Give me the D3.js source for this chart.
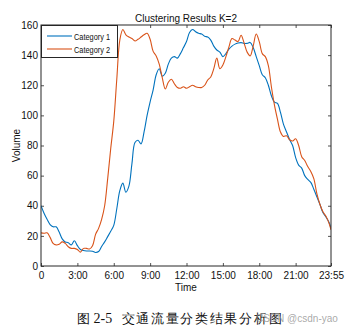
<!DOCTYPE html>
<html>
<head>
<meta charset="utf-8">
<script src="https://cdn.jsdelivr.net/npm/d3@7"></script>
<style>
  html, body { margin: 0; padding: 0; background: #fff; }
  svg { display: block; }
  text { font-family: "Liberation Sans", Arial, sans-serif; }
</style>
</head>
<body>
<svg id="chart" width="353" height="336"></svg>
<script>
// Sample times, minutes after midnight (15-minute samples, last one at 23:55)
const minutes = [
  0, 15, 30, 45, 60, 75, 90, 105, 120, 135, 150, 165, 180, 195, 210, 225,
  240, 255, 270, 285, 300, 315, 330, 345, 360, 375, 390, 405, 420, 435, 450, 465,
  480, 495, 510, 525, 540, 555, 570, 585, 600, 615, 630, 645, 660, 675, 690, 705,
  720, 735, 750, 765, 780, 795, 810, 825, 840, 855, 870, 885, 900, 915, 930, 945,
  960, 975, 990, 1005, 1020, 1035, 1050, 1065, 1080, 1095, 1110, 1125, 1140, 1155, 1170, 1185,
  1200, 1215, 1230, 1245, 1260, 1275, 1290, 1305, 1320, 1335, 1350, 1365, 1380, 1395, 1410, 1425,
  1435
];

// Cluster centre profiles (traffic volume)
const category1 = [
  40, 35, 31, 27.5, 26, 26, 22.5, 18, 16, 15.5, 14, 16.8, 13.5, 11, 10.3, 10,
  10, 9.8, 9, 9.6, 13, 16, 19.5, 23, 27, 38, 50, 55, 49, 53, 68, 82,
  83.5, 81, 89, 100, 109, 117, 127, 131, 126, 128, 134, 138, 139, 138, 141, 145,
  149, 155, 157, 155.5, 154.5, 154, 152.5, 152, 150, 146, 143.4, 142, 139, 141, 144, 146,
  147.3, 148, 148.3, 147.8, 147.8, 148.4, 145, 139, 133, 127, 125, 120, 113, 108.8, 108, 102,
  94, 89, 84, 80, 72, 67, 65, 60, 57.5, 55.5, 51, 46, 41, 35.5, 32.5, 29,
  25
];
const category2 = [
  22, 21.7, 22, 19, 15, 14, 14.5, 16, 15, 12.8, 11.7, 11.7, 11, 9.2, 11.7, 11.7,
  11.3, 13.5, 21, 25, 31, 40, 58, 78, 96, 124, 150, 157, 153.5, 152, 151, 149.4,
  150.5, 152, 153.5, 154.5, 150.5, 142.5, 139.5, 134, 125, 117.5, 122, 124, 121, 118.5, 118, 119,
  118, 119, 120, 119, 118.5, 118.5, 120, 123.5, 125.5, 131, 138, 131, 133.5, 139, 145.5, 151,
  150, 149, 153.2, 148, 142, 139.5, 146, 154, 149, 141, 139, 133, 119, 107, 97.5, 89,
  86, 86.5, 83.8, 83, 84.5, 80, 72.6, 70, 66, 62.8, 58, 48, 41, 36, 33, 28.5,
  24
];

const seriesNames = ["Category 1", "Category 2"];
const seriesColors = ["#0072BD", "#D95319"];

const xTickValues = [0, 180, 360, 540, 720, 900, 1080, 1260, 1435];
const xTickLabels = ["0", "3:00", "6:00", "9:00", "12:00", "15:00", "18:00", "21:00", "23:55"];
const yTickValues = [0, 20, 40, 60, 80, 100, 120, 140, 160];

const titleText = "Clustering Results K=2";
const xLabel = "Time";
const yLabel = "Volume";
const captionParts = ["图", "2-5", "交通流量分类结果分析图"];
const watermarkText = "CSDN @csdn-yao";

// ---- layout ----
const svg = d3.select("#chart");
const plot = { left: 41, right: 331, top: 25, bottom: 266 };

const x = d3.scaleLinear().domain([0, 1435]).range([plot.left, plot.right]);
const y = d3.scaleLinear().domain([0, 160]).range([plot.bottom, plot.top]);

svg.append("rect").attr("width", 353).attr("height", 336).attr("fill", "#fff");

const axisColor = "#262626";

// bottom axis with labels, ticks pointing inward
const gx = svg.append("g")
  .attr("transform", `translate(0,${plot.bottom})`)
  .call(d3.axisBottom(x).tickValues(xTickValues)
    .tickFormat((d, i) => xTickLabels[i]).tickSize(-3).tickPadding(6));
// left axis with labels
const gy = svg.append("g")
  .attr("transform", `translate(${plot.left},0)`)
  .call(d3.axisLeft(y).tickValues(yTickValues).tickSize(-3).tickPadding(3));
// top and right ticks (no labels)
const gt = svg.append("g")
  .attr("transform", `translate(0,${plot.top})`)
  .call(d3.axisTop(x).tickValues(xTickValues).tickFormat("").tickSize(-3));
const gr = svg.append("g")
  .attr("transform", `translate(${plot.right},0)`)
  .call(d3.axisRight(y).tickValues(yTickValues).tickFormat("").tickSize(-3));

[gx, gy, gt, gr].forEach(g => {
  g.select(".domain").remove();
  g.selectAll(".tick line").attr("stroke", axisColor).attr("stroke-width", 0.8);
  g.selectAll(".tick text").attr("fill", "#111").attr("font-size", 10)
    .attr("font-family", "Liberation Sans, Arial, sans-serif");
});

// data lines
const line = d3.line()
  .x((d, i) => x(minutes[i]))
  .y(d => y(d))
  .curve(d3.curveCatmullRom.alpha(0.5));

svg.append("clipPath").attr("id", "plotclip")
  .append("rect")
  .attr("x", plot.left).attr("y", plot.top)
  .attr("width", plot.right - plot.left).attr("height", plot.bottom - plot.top);

[category1, category2].forEach((vals, k) => {
  svg.append("path")
    .datum(vals)
    .attr("clip-path", "url(#plotclip)")
    .attr("fill", "none")
    .attr("stroke", seriesColors[k])
    .attr("stroke-width", 1.1)
    .attr("stroke-linejoin", "round")
    .attr("d", line);
});

// axes frame
svg.append("rect")
  .attr("x", plot.left).attr("y", plot.top)
  .attr("width", plot.right - plot.left).attr("height", plot.bottom - plot.top)
  .attr("fill", "none").attr("stroke", axisColor).attr("stroke-width", 1);

// title and axis labels
svg.append("text")
  .attr("x", (plot.left + plot.right) / 2).attr("y", 22)
  .attr("text-anchor", "middle").attr("font-size", 10).attr("fill", "#111")
  .text(titleText);
svg.append("text")
  .attr("x", (plot.left + plot.right) / 2).attr("y", 291)
  .attr("text-anchor", "middle").attr("font-size", 10).attr("fill", "#111")
  .text(xLabel);
svg.append("text")
  .attr("transform", `translate(20,${(plot.top + plot.bottom) / 2}) rotate(-90)`)
  .attr("text-anchor", "middle").attr("font-size", 10).attr("fill", "#111")
  .text(yLabel);

// legend
const legend = svg.append("g");
legend.append("rect")
  .attr("x", plot.left + 0.5).attr("y", plot.top + 0.5)
  .attr("width", 76).attr("height", 32)
  .attr("fill", "#fff").attr("stroke", axisColor).attr("stroke-width", 1);
seriesNames.forEach((name, k) => {
  const ly = 36 + k * 13;
  legend.append("line")
    .attr("x1", 47).attr("x2", 72).attr("y1", ly).attr("y2", ly)
    .attr("stroke", seriesColors[k]).attr("stroke-width", 1.1);
  legend.append("text")
    .attr("x", 74).attr("y", ly + 3.5)
    .attr("font-size", 9.5).attr("fill", "#111")
    .attr("textLength", 36).attr("lengthAdjust", "spacingAndGlyphs")
    .text(name);
});

// figure caption
const cap = svg.append("text")
  .attr("y", 323)
  .attr("font-size", 13).attr("fill", "#111")
  .attr("font-family", "Noto Sans CJK SC, sans-serif");
cap.append("tspan").attr("x", 77).text(captionParts[0]);
cap.append("tspan").attr("x", 93.5).attr("font-family", "Liberation Serif, serif")
  .attr("font-size", 14).text(captionParts[1]);
cap.append("tspan").attr("x", 121.5)
  .attr("textLength", 160).attr("lengthAdjust", "spacing").text(captionParts[2]);

svg.append("text")
  .attr("x", 256).attr("y", 322)
  .attr("font-size", 10).attr("fill", "#999").attr("fill-opacity", 0.85)
  .text(watermarkText);
</script>
</body>
</html>
